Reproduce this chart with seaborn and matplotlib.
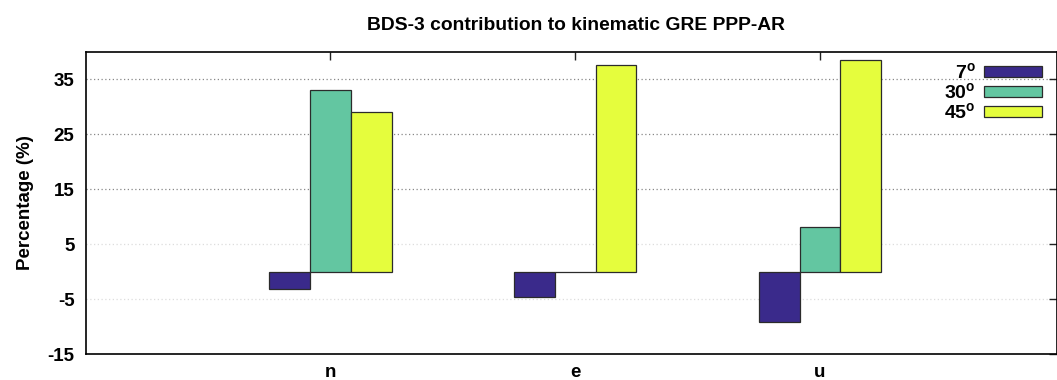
import matplotlib
matplotlib.use("Agg")
import matplotlib.pyplot as plt
import seaborn as sns
import pandas as pd

# Percentage contribution of BDS-3 per coordinate component and cutoff angle
components = ["n", "e", "u"]
cutoffs = ["7$^\\mathrm{o}$", "30$^\\mathrm{o}$", "45$^\\mathrm{o}$"]
val_7 = [-3.1, -4.7, -9.1]
val_30 = [33.0, 0.0, 8.1]
val_45 = [29.1, 37.7, 38.6]
colors = ["#3a2a8b", "#63c6a1", "#e5fd3d"]
yticks = [-15, -5, 5, 15, 25, 35]

df = pd.DataFrame({
    "component": components * 3,
    "cutoff": [cutoffs[0]] * 3 + [cutoffs[1]] * 3 + [cutoffs[2]] * 3,
    "value": val_7 + val_30 + val_45,
})

sns.set_theme(style="white")
plt.rcParams["font.family"] = ["Liberation Sans", "DejaVu Sans"]
plt.rcParams["font.weight"] = "bold"
plt.rcParams["mathtext.fontset"] = "custom"
plt.rcParams["mathtext.rm"] = "Liberation Sans:bold"
plt.rcParams["mathtext.default"] = "rm"
for key in ["text.color", "axes.labelcolor", "xtick.color", "ytick.color"]:
    plt.rcParams[key] = "black"

fig = plt.figure(figsize=(10.57, 3.80), dpi=100)
ax = fig.add_axes([0.0811, 0.0684, 0.9185, 0.7947])

sns.barplot(data=df, x="component", y="value", hue="cutoff",
            order=components, hue_order=cutoffs, palette=colors,
            width=0.5, dodge=True, edgecolor="#2b2b2b", linewidth=0.9,
            saturation=1, ax=ax, zorder=3)

ax.set_xlim(-1.0, 2.967)
ax.set_ylim(-15, 40)
ax.set_yticks(yticks)
ax.set_yticklabels([str(t) for t in yticks])
ax.set_xlabel("")
ax.set_ylabel("Percentage (%)", fontsize=13.5, fontweight="bold",
              labelpad=10, color="black")
ax.set_title("BDS-3 contribution to kinematic GRE PPP-AR",
             fontsize=13.9, fontweight="bold", pad=16, color="black",
             x=0.505)

for s in ax.spines.values():
    s.set_color("black")
    s.set_linewidth(1.2)

ax.tick_params(axis="both", direction="in", length=6, width=1,
               color="#222222", labelcolor="black", top=True, right=True,
               labelsize=13.5)
ax.tick_params(axis="x", pad=7)
ax.tick_params(axis="y", pad=8)
for lab in ax.get_xticklabels() + ax.get_yticklabels():
    lab.set_fontweight("bold")

# dotted horizontal grid behind the bars
ax.yaxis.grid(True, linestyle=(0, (1, 2)), linewidth=0.9, zorder=0)
ax.set_axisbelow(True)
for t, gl in zip(ax.get_yticks(), ax.get_ygridlines()):
    gl.set_color("#888888" if t > 10 else "#dddddd")

leg = ax.legend(loc="upper right", frameon=False, markerfirst=False,
                fontsize=14, handlelength=3.0, handleheight=0.5,
                labelspacing=0.0, handletextpad=0.4,
                borderaxespad=0.3, bbox_to_anchor=(0.999, 1.012))
for txt in leg.get_texts():
    txt.set_color("black")

fig.savefig("out.png", dpi=100)
